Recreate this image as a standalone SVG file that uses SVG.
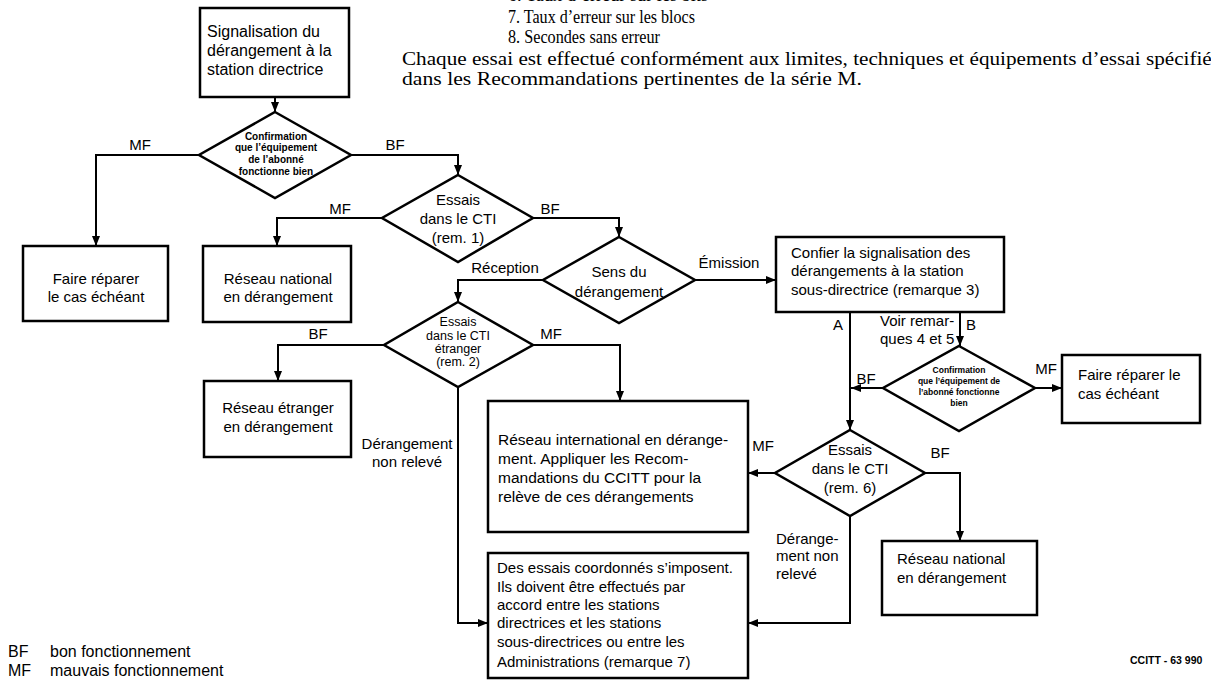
<svg xmlns="http://www.w3.org/2000/svg" width="1211" height="689" viewBox="0 0 1211 689">
<style>
.box{fill:#fff;stroke:#000;stroke-width:2.5}
.dia{fill:#fff;stroke:#000;stroke-width:2.5;stroke-linejoin:miter}
.c{fill:none;stroke:#000;stroke-width:2}
.t{font-family:"Liberation Sans",Arial,sans-serif;font-size:15px;fill:#000}
.m{text-anchor:middle}
.s{font-size:10px;font-weight:bold}
.d4{font-size:12.5px}
.serif{font-family:"Liberation Serif","Times New Roman",serif;font-size:19px;fill:#000}
.small{font-family:"Liberation Sans",Arial,sans-serif;font-size:10.5px;font-weight:bold;fill:#000}
</style>
<defs>
<marker id="ah" viewBox="0 0 10 10" refX="10" refY="5" markerWidth="10" markerHeight="10" markerUnits="userSpaceOnUse" orient="auto"><path d="M0,1 L10,5 L0,9 z" fill="#000"/></marker>
</defs>
<rect width="1211" height="689" fill="#fff"/>

<g id="header">
<text class="serif" x="508" y="1" textLength="200" lengthAdjust="spacingAndGlyphs">6.  Taux d’erreur sur les bits</text>
<text class="serif" x="508" y="23" textLength="187" lengthAdjust="spacingAndGlyphs">7.  Taux d’erreur sur les blocs</text>
<text class="serif" x="508" y="43" textLength="152" lengthAdjust="spacingAndGlyphs">8.  Secondes sans erreur</text>
<text class="serif" x="402" y="65" textLength="818" lengthAdjust="spacingAndGlyphs">Chaque essai est effectué conformément aux limites, techniques et équipements d’essai spécifiés</text>
<text class="serif" x="402" y="85" textLength="460" lengthAdjust="spacingAndGlyphs">dans les Recommandations pertinentes de la série M.</text>
</g>

<g id="connectors">
<path class="c" d="M275,97 V112" marker-end="url(#ah)"/>
<path class="c" d="M199,155 H96 V246" marker-end="url(#ah)"/>
<path class="c" d="M351,155 H458 V175" marker-end="url(#ah)"/>
<path class="c" d="M382,218 H277 V246" marker-end="url(#ah)"/>
<path class="c" d="M533,218 H619 V237" marker-end="url(#ah)"/>
<path class="c" d="M543,280 H458 V302" marker-end="url(#ah)"/>
<path class="c" d="M695,280 H776" marker-end="url(#ah)"/>
<path class="c" d="M384,345 H278 V381" marker-end="url(#ah)"/>
<path class="c" d="M533,345 H620 V401" marker-end="url(#ah)"/>
<path class="c" d="M458,387 V623 H488" marker-end="url(#ah)"/>
<path class="c" d="M850,312 V430" marker-end="url(#ah)"/>
<path class="c" d="M960,312 V346" marker-end="url(#ah)"/>
<path class="c" d="M883,388 H851" marker-end="url(#ah)"/>
<path class="c" d="M1035,388 H1062" marker-end="url(#ah)"/>
<path class="c" d="M775,473 H748" marker-end="url(#ah)"/>
<path class="c" d="M925,473 H960 V541" marker-end="url(#ah)"/>
<path class="c" d="M850,516 V623 H748" marker-end="url(#ah)"/>
</g>

<g id="labels" class="t">
<text x="140" y="150" class="m">MF</text>
<text x="395" y="150" class="m">BF</text>
<text x="340" y="214" class="m">MF</text>
<text x="550" y="214" class="m">BF</text>
<text x="505" y="273" class="m">Réception</text>
<text x="729" y="268" class="m">Émission</text>
<text x="318" y="339" class="m">BF</text>
<text x="551" y="339" class="m">MF</text>
<text x="407" y="449" class="m">Dérangement</text>
<text x="407" y="467" class="m">non relevé</text>
<text x="838" y="330" class="m">A</text>
<text x="880" y="326">Voir remar-</text>
<text x="880" y="344">ques 4 et 5</text>
<text x="971" y="330" class="m">B</text>
<text x="866" y="384" class="m">BF</text>
<text x="1046" y="374" class="m">MF</text>
<text x="763" y="451" class="m">MF</text>
<text x="940" y="458" class="m">BF</text>
<text x="776" y="544">Dérange-</text>
<text x="776" y="561">ment non</text>
<text x="776" y="579">relevé</text>
</g>

<g id="n-signalisation">
<rect class="box" x="200" y="8" width="149" height="89"/>
<text class="t" x="207" y="37" style="font-size:16px">Signalisation du</text>
<text class="t" x="207" y="56" style="font-size:16px">dérangement à la</text>
<text class="t" x="207" y="75" style="font-size:16px">station directrice</text>
</g>

<g id="n-confirm1">
<polygon class="dia" points="275,112 351,155 275,198 199,155"/>
<text class="t s m" x="276" y="140">Confirmation</text>
<text class="t s m" x="276" y="151">que l’équipement</text>
<text class="t s m" x="276" y="163">de l’abonné</text>
<text class="t s m" x="276" y="175">fonctionne bien</text>
</g>

<g id="n-faire-reparer-1">
<rect class="box" x="23" y="246" width="145" height="75"/>
<text class="t m" x="96" y="284">Faire réparer</text>
<text class="t m" x="96" y="302">le cas échéant</text>
</g>

<g id="n-essais-cti-1">
<polygon class="dia" points="458,175 533,218 458,262 382,218"/>
<text class="t m" x="458" y="205">Essais</text>
<text class="t m" x="458" y="224">dans le CTI</text>
<text class="t m" x="458" y="243">(rem. 1)</text>
</g>

<g id="n-reseau-national-1">
<rect class="box" x="203" y="246" width="148" height="76"/>
<text class="t m" x="278" y="284">Réseau national</text>
<text class="t m" x="278" y="302">en dérangement</text>
</g>

<g id="n-sens">
<polygon class="dia" points="619,237 695,280 619,323 543,280"/>
<text class="t m" x="619" y="277">Sens du</text>
<text class="t m" x="619" y="297">dérangement</text>
</g>

<g id="n-confier">
<rect class="box" x="776" y="237" width="228" height="75"/>
<text class="t" x="791" y="258">Confier la signalisation des</text>
<text class="t" x="791" y="276">dérangements à la station</text>
<text class="t" x="791" y="295">sous-directrice (remarque 3)</text>
</g>

<g id="n-essais-cti-etranger">
<polygon class="dia" points="458,302 533,345 458,387 384,345"/>
<text class="t d4 m" x="458" y="326">Essais</text>
<text class="t d4 m" x="458" y="340">dans le CTI</text>
<text class="t d4 m" x="458" y="353">étranger</text>
<text class="t d4 m" x="458" y="366">(rem. 2)</text>
</g>

<g id="n-reseau-etranger">
<rect class="box" x="204" y="381" width="147" height="76"/>
<text class="t m" x="278" y="413">Réseau étranger</text>
<text class="t m" x="278" y="432">en dérangement</text>
</g>

<g id="n-reseau-international">
<rect class="box" x="488" y="401" width="260" height="131"/>
<text class="t" x="498" y="445" style="font-size:15.5px">Réseau international en dérange-</text>
<text class="t" x="498" y="464" style="font-size:15.5px">ment. Appliquer les Recom-</text>
<text class="t" x="498" y="483" style="font-size:15.5px">mandations du CCITT pour la</text>
<text class="t" x="498" y="502" style="font-size:15.5px">relève de ces dérangements</text>
</g>

<g id="n-confirm2">
<polygon class="dia" points="959,346 1035,388 959,431 883,388"/>
<text class="t s m" x="959" y="373" style="font-size:8.5px">Confirmation</text>
<text class="t s m" x="959" y="384" style="font-size:8.5px">que l’équipement de</text>
<text class="t s m" x="959" y="395" style="font-size:8.5px">l’abonné fonctionne</text>
<text class="t s m" x="959" y="406" style="font-size:8.5px">bien</text>
</g>

<g id="n-faire-reparer-2">
<rect class="box" x="1062" y="355" width="138" height="68"/>
<text class="t" x="1078" y="380">Faire réparer le</text>
<text class="t" x="1078" y="399">cas échéant</text>
</g>

<g id="n-essais-cti-6">
<polygon class="dia" points="850,430 925,473 850,516 775,473"/>
<text class="t m" x="850" y="455">Essais</text>
<text class="t m" x="850" y="474">dans le CTI</text>
<text class="t m" x="850" y="493">(rem. 6)</text>
</g>

<g id="n-reseau-national-2">
<rect class="box" x="882" y="541" width="155" height="74"/>
<text class="t" x="897" y="564">Réseau national</text>
<text class="t" x="897" y="583">en dérangement</text>
</g>

<g id="n-essais-coordonnes">
<rect class="box" x="488" y="553" width="260" height="125"/>
<text class="t" x="497" y="573">Des essais coordonnés s’imposent.</text>
<text class="t" x="497" y="592">Ils doivent être effectués par</text>
<text class="t" x="497" y="610">accord entre les stations</text>
<text class="t" x="497" y="628">directrices et les stations</text>
<text class="t" x="497" y="647">sous-directrices ou entre les</text>
<text class="t" x="497" y="667">Administrations (remarque 7)</text>
</g>

<g id="legend" class="t" style="font-size:16px">
<text x="8" y="657">BF</text>
<text x="50" y="657">bon fonctionnement</text>
<text x="8" y="676">MF</text>
<text x="50" y="676">mauvais fonctionnement</text>
</g>
<text class="small" x="1130" y="664">CCITT - 63 990</text>
</svg>
